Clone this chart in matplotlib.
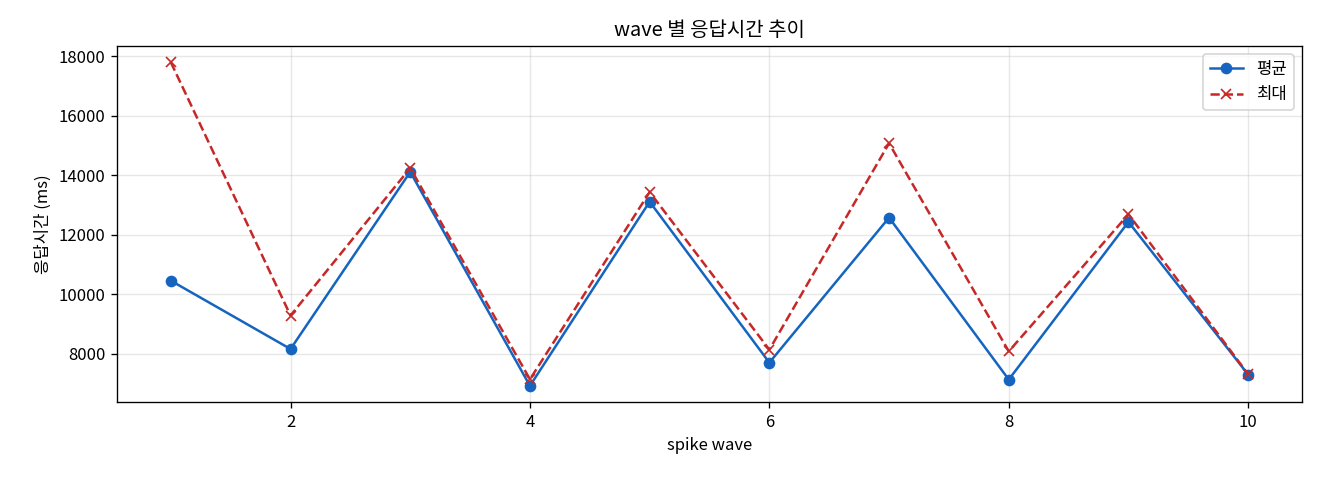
import matplotlib
matplotlib.use('Agg')
import matplotlib.pyplot as plt

plt.rcParams['font.family'] = ['Noto Sans CJK KR', 'DejaVu Sans']
plt.rcParams['axes.unicode_minus'] = False

waves = [1, 2, 3, 4, 5, 6, 7, 8, 9, 10]
avg_ms = [10460, 8166, 14110, 6931, 13110, 7709, 12576, 7141, 12431, 7308]
max_ms = [17790, 9290, 14240, 7150, 13433, 8144, 15070, 8087, 12688, 7320]

fig, ax = plt.subplots(figsize=(11, 4), dpi=120)
ax.plot(waves, avg_ms, marker='o', color='#1565C0', label='평균')
ax.plot(waves, max_ms, marker='x', linestyle='--', color='#C62828', label='최대')
ax.set_title('wave 별 응답시간 추이')
ax.set_xlabel('spike wave')
ax.set_ylabel('응답시간 (ms)')
ax.grid(True, alpha=0.3)
ax.legend()
fig.subplots_adjust(left=0.0886, right=0.9864, top=0.904, bottom=0.1625)
fig.savefig('out.png')
